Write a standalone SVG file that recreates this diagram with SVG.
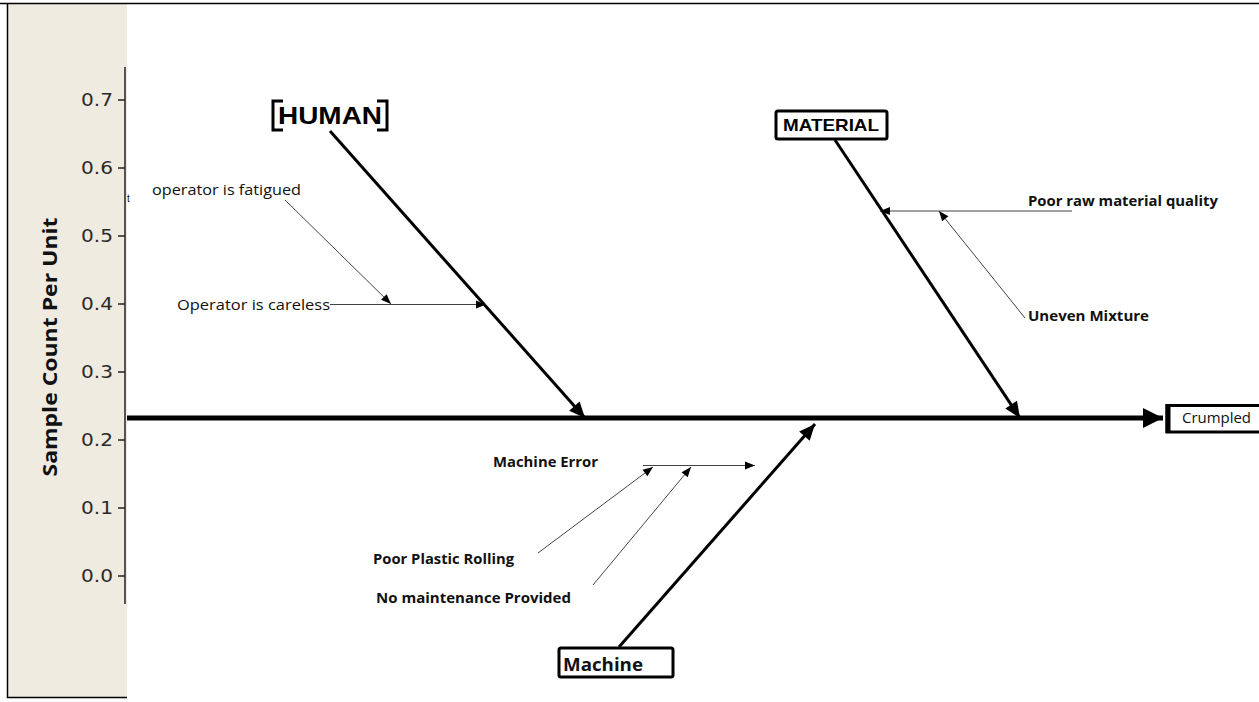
<svg xmlns="http://www.w3.org/2000/svg" width="1259" height="702" viewBox="0 0 1259 702">
<style>
.frame{stroke:#000;stroke-width:1.5;fill:none}
.tick{stroke:#222;stroke-width:1.5}
.ax{font-family:"DejaVu Sans",Verdana,sans-serif;font-size:18px;fill:#2a2a2a;text-anchor:end}
.bone{stroke:#000;stroke-width:3;fill:none}
.spine{stroke:#000;stroke-width:5;fill:none}
.thin{stroke:#444;stroke-width:1;fill:none}
.lbl{font-family:"Open Sans","Liberation Sans",sans-serif;font-size:14.5px;fill:#111}
.blbl{font-family:"Open Sans","Liberation Sans",sans-serif;font-size:14px;font-weight:bold;fill:#111}
.box{stroke:#000;stroke-width:3;fill:#fff}
.head{font-family:"Liberation Sans",Arial,sans-serif;font-weight:bold;fill:#000}
</style>
<defs>
<marker id="big" markerUnits="userSpaceOnUse" markerWidth="20" markerHeight="20" viewBox="0 0 20 20" refX="18" refY="10" orient="auto">
<path d="M2,3 L18,10 L2,17 Z" fill="#000"/>
</marker>
<marker id="spineHead" markerUnits="userSpaceOnUse" markerWidth="22" markerHeight="24" viewBox="0 0 22 24" refX="20" refY="12" orient="auto">
<path d="M0,2 L20,12 L0,22 Z" fill="#000"/>
</marker>
<marker id="sm" markerUnits="userSpaceOnUse" markerWidth="12" markerHeight="12" viewBox="0 0 12 12" refX="11" refY="6" orient="auto">
<path d="M1,2 L11,6 L1,10 Z" fill="#000"/>
</marker>
</defs>
<rect width="1259" height="702" fill="#fff"/>
<g id="axis-panel">
<rect x="8" y="4" width="119" height="693" fill="#EFEBE1"/>
<path class="frame" d="M0,3.5 H1259 M7.5,3.5 V697.5 H127"/>
<line x1="125" y1="67" x2="125" y2="604" stroke="#222" stroke-width="1.5"/>
<g class="tick">
<line x1="118" y1="100" x2="125" y2="100"/>
<line x1="118" y1="168" x2="125" y2="168"/>
<line x1="118" y1="236" x2="125" y2="236"/>
<line x1="118" y1="304" x2="125" y2="304"/>
<line x1="118" y1="372" x2="125" y2="372"/>
<line x1="118" y1="440" x2="125" y2="440"/>
<line x1="118" y1="508" x2="125" y2="508"/>
<line x1="118" y1="576" x2="125" y2="576"/>
</g>
<g class="ax">
<text x="113" y="106" textLength="32" lengthAdjust="spacingAndGlyphs">0.7</text>
<text x="113" y="174" textLength="32" lengthAdjust="spacingAndGlyphs">0.6</text>
<text x="113" y="242" textLength="32" lengthAdjust="spacingAndGlyphs">0.5</text>
<text x="113" y="310" textLength="32" lengthAdjust="spacingAndGlyphs">0.4</text>
<text x="113" y="378" textLength="32" lengthAdjust="spacingAndGlyphs">0.3</text>
<text x="113" y="446" textLength="32" lengthAdjust="spacingAndGlyphs">0.2</text>
<text x="113" y="514" textLength="32" lengthAdjust="spacingAndGlyphs">0.1</text>
<text x="113" y="582" textLength="32" lengthAdjust="spacingAndGlyphs">0.0</text>
</g>
<text transform="translate(57,347) rotate(-90)" text-anchor="middle" font-family="Open Sans,Liberation Sans,sans-serif" font-weight="bold" font-size="19" fill="#111" textLength="259" lengthAdjust="spacingAndGlyphs">Sample Count Per Unit</text>
<text x="127" y="202" font-family="Liberation Sans,sans-serif" font-size="10" fill="#111">t</text>
</g>
<g id="connectors">
<line class="spine" x1="127" y1="418" x2="1163" y2="418" marker-end="url(#spineHead)"/>
<line class="bone" x1="330" y1="131" x2="585" y2="418" marker-end="url(#big)"/>
<line class="bone" x1="835" y1="140" x2="1020" y2="418" marker-end="url(#big)"/>
<line class="bone" x1="619" y1="647" x2="815" y2="424" marker-end="url(#big)"/>
<line class="thin" x1="285" y1="200" x2="391" y2="304" marker-end="url(#sm)"/>
<line class="thin" x1="330" y1="304.5" x2="486" y2="304.5" marker-end="url(#sm)"/>
<line class="thin" x1="1072" y1="211" x2="880" y2="211" marker-end="url(#sm)"/>
<line class="thin" x1="1025" y1="318" x2="939" y2="211" marker-end="url(#sm)"/>
<line class="thin" x1="643" y1="465.5" x2="755" y2="465.5" marker-end="url(#sm)"/>
<line class="thin" x1="538" y1="553" x2="653" y2="467" marker-end="url(#sm)"/>
<line class="thin" x1="593" y1="585" x2="691" y2="467" marker-end="url(#sm)"/>
</g>
<g id="human">
<path d="M283,101 H273 V130 H283 M377,101 H387 V130 H377" fill="none" stroke="#000" stroke-width="3"/>
<text class="head" x="278" y="124" font-size="23" textLength="104" lengthAdjust="spacingAndGlyphs">HUMAN</text>
</g>
<g id="material">
<rect class="box" x="776" y="111" width="111" height="28" rx="2"/>
<text class="head" x="783" y="131" font-size="17" textLength="96" lengthAdjust="spacingAndGlyphs">MATERIAL</text>
</g>
<g id="machine">
<rect class="box" x="559" y="648" width="114" height="29" rx="2"/>
<text x="563" y="671" font-family="Open Sans,Liberation Sans,sans-serif" font-weight="bold" font-size="18" fill="#111" textLength="80" lengthAdjust="spacingAndGlyphs">Machine</text>
</g>
<g id="crumpled">
<path d="M1259,405.5 H1167 V432 H1259" fill="#fff" stroke="#000" stroke-width="3"/>
<line x1="1168" y1="404" x2="1168" y2="433" stroke="#000" stroke-width="5"/>
<text x="1182" y="423" font-family="Open Sans,Liberation Sans,sans-serif" font-size="14.5" fill="#111" textLength="69" lengthAdjust="spacingAndGlyphs">Crumpled</text>
</g>
<g id="cause-fatigued"><text class="lbl" x="152" y="195" textLength="149" lengthAdjust="spacingAndGlyphs">operator is fatigued</text></g>
<g id="cause-careless"><text class="lbl" x="177" y="310" textLength="153" lengthAdjust="spacingAndGlyphs">Operator is careless</text></g>
<g id="cause-raw"><text class="blbl" x="1028" y="206" textLength="190" lengthAdjust="spacingAndGlyphs">Poor raw material quality</text></g>
<g id="cause-mixture"><text class="blbl" x="1028" y="321" textLength="121" lengthAdjust="spacingAndGlyphs">Uneven Mixture</text></g>
<g id="cause-machine-error"><text class="blbl" x="493" y="467" textLength="105" lengthAdjust="spacingAndGlyphs">Machine Error</text></g>
<g id="cause-rolling"><text class="blbl" x="373" y="564" textLength="141" lengthAdjust="spacingAndGlyphs">Poor Plastic Rolling</text></g>
<g id="cause-maintenance"><text class="blbl" x="376" y="603" textLength="195" lengthAdjust="spacingAndGlyphs">No maintenance Provided</text></g>
</svg>
